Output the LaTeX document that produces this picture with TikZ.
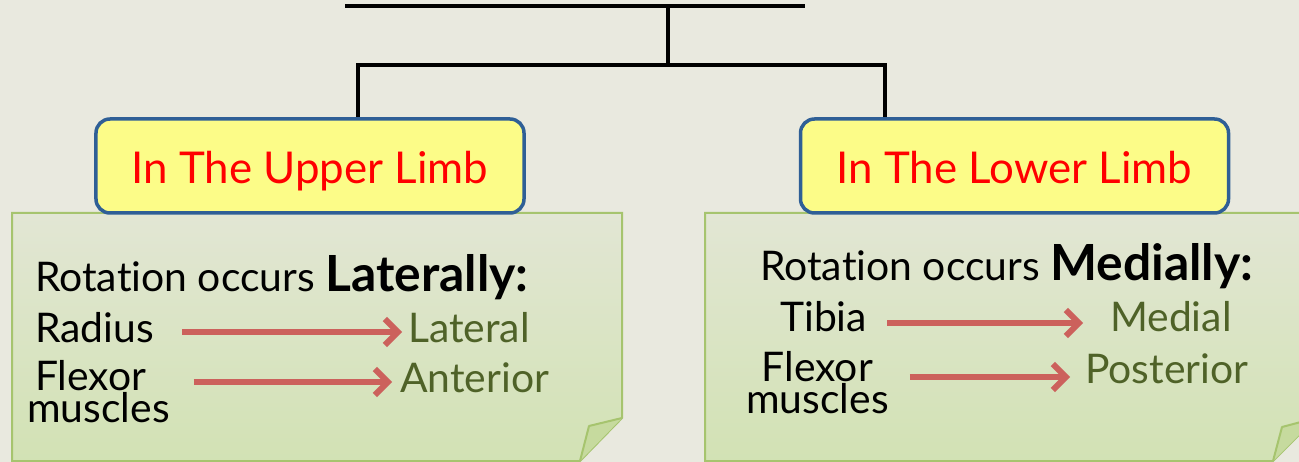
\documentclass[tikz,border=0pt]{standalone}
\usepackage{fontspec}
\setmainfont{Lato}[Ligatures={NoCommon,TeX}]
\usetikzlibrary{arrows.meta,positioning}
\definecolor{slide}{HTML}{E9E9DF}
\definecolor{limbblue}{HTML}{2F5F96}
\definecolor{limbyellow}{HTML}{FCFC88}
\definecolor{notegreen}{HTML}{A6C46E}
\definecolor{notetop}{HTML}{E2E6D4}
\definecolor{notebottom}{HTML}{D2E2B4}
\definecolor{notefold}{HTML}{C6DA9E}
\definecolor{resultgreen}{HTML}{4F6228}
\definecolor{arrowred}{HTML}{CC615C}
\begin{document}
\begin{tikzpicture}[x=1bp,y=-1bp,
  tree/.style={line width=4.5bp,black},
  limb/.style={draw=limbblue,line width=3.5bp,fill=limbyellow,rounded corners=14bp,
    minimum width=428bp,minimum height=94bp,text height=36bp,text depth=0pt,
    text=red,font=\fontsize{44}{50}\selectfont},
  note/.style={draw=notegreen,line width=2bp,top color=notetop,bottom color=notebottom},
  fold/.style={draw=notegreen,line width=2bp,fill=notefold,line join=round},
  body/.style={anchor=base west,inner sep=0pt,font=\fontsize{41}{30}\selectfont},
  result/.style={body,text=resultgreen},
  goes/.style={draw=arrowred,line width=6bp,-{Straight Barb[length=13bp,width=26bp]}}]
\useasboundingbox[fill=slide] (0,0) rectangle (1299,462);

% sticky notes
\draw[note] (12,213) -- (622,213) -- (622,418) -- (580,461) -- (12,461) -- cycle;
\draw[fold] (622,418) -- (589,426) -- (580,461);
\draw[note] (705,213) -- (1316,213) -- (1316,418) -- (1273,461) -- (705,461) -- cycle;
\draw[fold] (1316,418) -- (1282,427) -- (1273,461);

% tree
\draw[tree] (345,6) -- (805,6);
\coordinate (title) at (668,6);
\coordinate (hub) at (668,65);
\node[limb] (upper) at (310,166) {In The Upper Limb};
\node[limb] (lower) at (1014.5,166) {In The Lower Limb};
\draw[tree] (title) -- (hub);
\draw[tree] ([xshift=48bp]upper.north) |- (hub) -| ([xshift=-129.5bp]lower.north);

% upper limb
\node[body] (rotU) at (35,292) {Rotation occurs {\bfseries\fontsize{50}{54}\selectfont Laterally:}};
\node[body] (radius) at (35,342) {Radius};
\node[result] (lateral) at (408,342) {Lateral};
\node[body,align=left] (flexU) at (27,422) {\hspace*{8bp}Flexor\\muscles};
\node[result] (anterior) at (400,392) {Anterior};
\draw[goes] ([xshift=28bp,yshift=10bp]radius.base east) -- ([xshift=-6bp,yshift=10bp]lateral.base west);
\draw[goes] ([xshift=-8bp,yshift=10bp]anterior.base west -| flexU.east) ++(32bp,0) -- ([xshift=-8bp,yshift=10bp]anterior.base west);

% lower limb
\node[body] (rotL) at (760,281) {Rotation occurs {\bfseries\fontsize{50}{54}\selectfont Medially:}};
\node[body] (tibia) at (780,331) {Tibia};
\node[result] (medial) at (1110,331) {Medial};
\node[body,align=center] (flexL) at (746,413) {Flexor\\muscles};
\node[result] (posterior) at (1085,383) {Posterior};
\draw[goes] ([xshift=20bp,yshift=8bp]tibia.base east) -- ([xshift=-27bp,yshift=8bp]medial.base west);
\draw[goes] ([xshift=-15bp,yshift=6bp]posterior.base west -| flexL.east) ++(36bp,0) -- ([xshift=-15bp,yshift=6bp]posterior.base west);
\end{tikzpicture}
\end{document}
